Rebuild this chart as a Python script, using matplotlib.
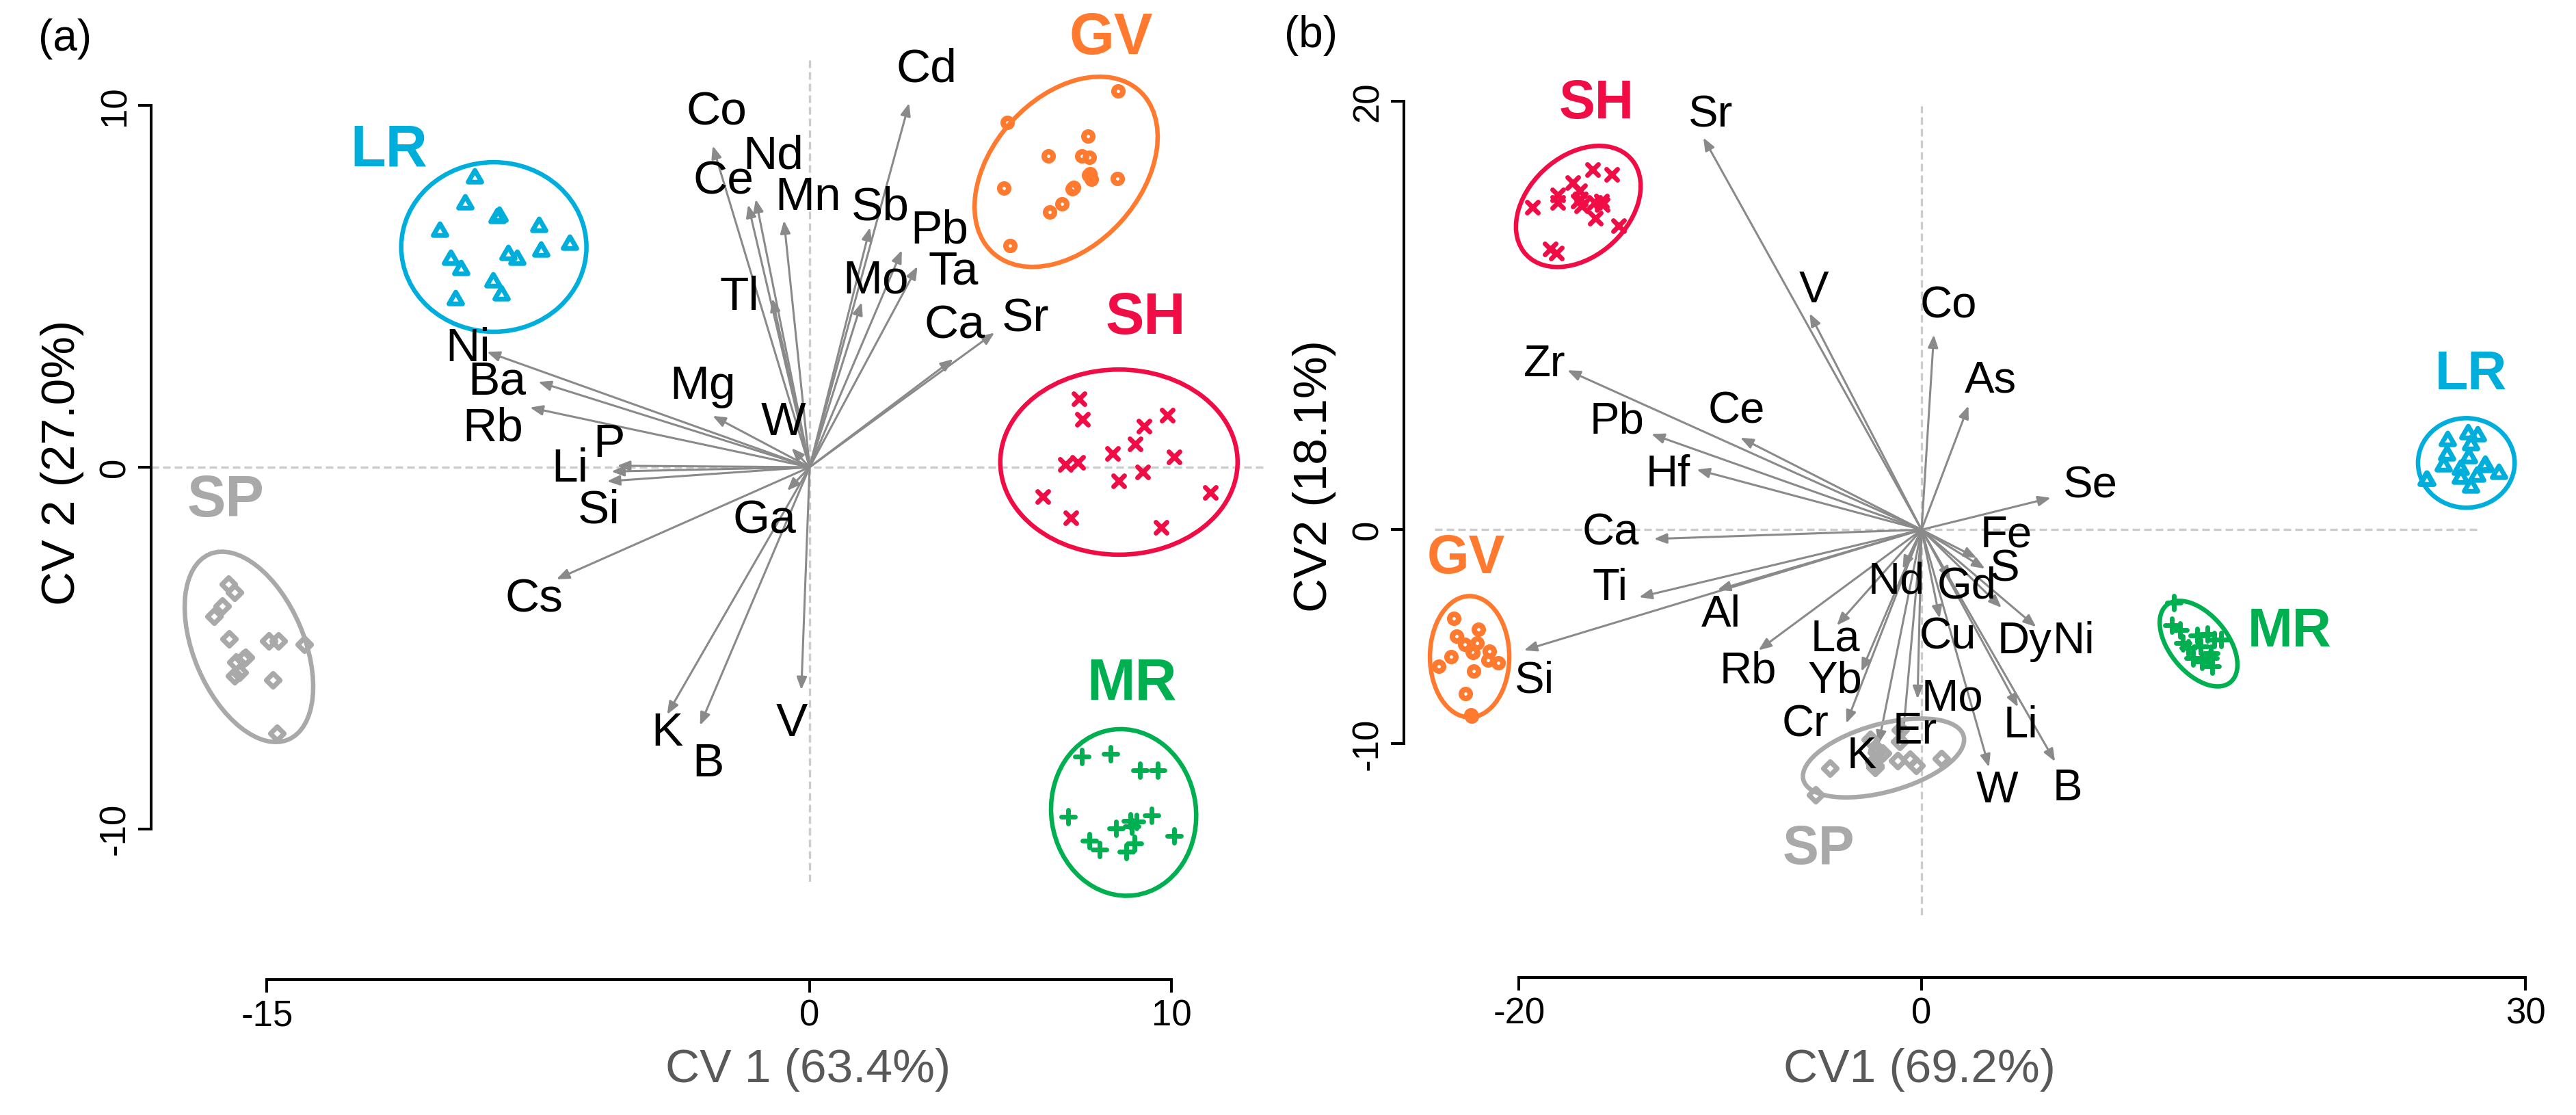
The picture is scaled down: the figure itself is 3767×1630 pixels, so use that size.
import matplotlib
matplotlib.use("Agg")
import matplotlib.pyplot as plt
from matplotlib.patches import Ellipse
from matplotlib.markers import MarkerStyle
from matplotlib.path import Path

plt.rcParams['font.family'] = ['Liberation Sans', 'DejaVu Sans']

# ---------------- DATA: panel (a) ----------------
a_LR_x = [-9.26, -9.53, -8.63, -8.58, -10.22, -7.49, -6.64, -7.42, -9.92, -8.34, -8.09, -9.64, -8.76, -8.52, -9.79]
a_LR_y = [8.00, 7.28, 6.90, 6.95, 6.53, 6.65, 6.17, 5.97, 5.75, 5.89, 5.75, 5.46, 5.13, 4.77, 4.64]
a_GV_x = [8.53, 5.47, 7.69, 6.60, 7.52, 7.73, 7.71, 7.76, 7.79, 8.51, 5.36, 7.26, 7.29, 6.97, 6.64, 5.54]
a_GV_y = [10.41, 9.54, 9.15, 8.60, 8.61, 8.57, 8.08, 8.12, 7.96, 7.99, 7.71, 7.70, 7.73, 7.29, 7.06, 6.12]
a_SH_x = [7.45, 7.54, 9.88, 9.25, 9.00, 8.37, 10.08, 7.08, 7.41, 9.20, 8.54, 6.45, 7.23, 9.72, 11.08]
a_SH_y = [1.89, 1.32, 1.43, 1.14, 0.64, 0.38, 0.28, 0.08, 0.13, -0.13, -0.37, -0.81, -1.41, -1.66, -0.70]
a_MR_x = [7.53, 8.32, 9.14, 9.63, 7.15, 9.45, 8.86, 9.03, 8.47, 8.90, 10.08, 7.74, 8.02, 8.98, 8.76]
a_MR_y = [-8.00, -7.92, -8.38, -8.38, -9.67, -9.64, -9.78, -9.80, -9.99, -9.94, -10.20, -10.33, -10.57, -10.41, -10.63]
a_SP_x = [-16.06, -15.89, -16.24, -16.46, -16.05, -14.96, -14.69, -13.96, -15.59, -15.86, -15.77, -15.89, -14.83, -14.73, -15.65]
a_SP_y = [-3.24, -3.46, -3.84, -4.12, -4.75, -4.80, -4.80, -4.91, -5.26, -5.40, -5.68, -5.78, -5.89, -7.37, -5.30]

# ellipses (a): center x, center y, width, height, angle
a_ell_LR = (-8.73, 6.09, 5.12, 4.69, 0)
a_ell_GV = (7.09, 8.17, 6.04, 4.10, 48)
a_ell_SH = (8.55, 0.14, 6.56, 5.12, 0)
a_ell_MR = (8.68, -9.55, 4.00, 4.62, 8)
a_ell_SP = (-15.50, -4.97, 5.57, 3.05, -67)

# group labels (a)
a_grp_names = ['LR', 'GV', 'SH', 'SP', 'MR']
a_grp_x = [-11.63, 8.33, 9.29, -16.15, 8.90]
a_grp_y = [8.75, 11.84, 4.11, -0.94, -6.00]

# loadings (a)
a_var = ['Cd', 'Co', 'Nd', 'Ce', 'Mn', 'Tl', 'Sb', 'Pb', 'Mo', 'Ta', 'Ca', 'Sr', 'Ni', 'Ba', 'Rb',
         'Mg', 'W', 'P', 'Li', 'Si', 'Cs', 'Ga', 'K', 'B', 'V']
a_tip_x = [2.75, -2.68, -1.49, -1.70, -0.71, -1.03, 1.67, 2.55, 1.44, 2.98, 3.97, 5.11, -8.92, -7.50, -7.73,
           -2.68, -0.50, -5.32, -5.48, -5.60, -7.00, -0.62, -3.94, -3.03, -0.23]
a_tip_y = [10.07, 8.89, 7.41, 7.26, 6.82, 4.66, 6.63, 6.00, 4.56, 5.55, 2.99, 3.72, 3.19, 2.36, 1.65,
           1.42, 0.53, 0.04, -0.12, -0.39, -3.10, -0.65, -6.84, -7.14, -6.16]
a_lab_x = [3.23, -2.57, -1.00, -2.39, -0.05, -1.93, 1.95, 3.58, 1.83, 3.97, 4.00, 5.96, -9.45, -8.65, -8.76,
           -2.96, -0.73, -5.55, -6.63, -5.83, -7.61, -1.24, -3.94, -2.80, -0.50]
a_lab_y = [11.00, 9.81, 8.60, 7.90, 7.45, 4.70, 7.18, 6.53, 5.15, 5.41, 3.90, 4.10, 3.28, 2.36, 1.06,
           2.24, 1.22, 0.63, -0.06, -1.20, -3.66, -1.49, -7.37, -8.22, -7.10]

# ---------------- DATA: panel (b) ----------------
b_SH_x = [-16.34, -15.38, -17.34, -16.98, -18.08, -18.06, -17.04, -16.95, -16.87, -16.25, -15.91, -15.87, -19.34, -16.19, -15.06, -18.45, -18.14]
b_SH_y = [16.83, 16.58, 16.21, 15.84, 15.64, 15.27, 15.36, 15.45, 15.14, 15.30, 15.34, 15.18, 15.06, 14.54, 14.19, 13.12, 12.91]
b_GV_x = [-23.23, -22.02, -23.10, -22.70, -22.08, -22.31, -22.28, -21.48, -23.38, -21.54, -21.03, -23.98, -22.25, -22.65, -22.38, -22.36]
b_GV_y = [-4.13, -4.65, -4.98, -5.36, -5.30, -5.71, -5.75, -5.68, -5.92, -6.10, -6.21, -6.39, -6.61, -7.65, -8.66, -8.70]
b_LR_x = [27.15, 27.63, 26.12, 27.29, 26.10, 27.17, 26.78, 25.93, 27.97, 28.00, 28.68, 27.57, 26.78, 25.08, 25.10, 27.27]
b_LR_y = [4.50, 4.39, 4.17, 3.96, 3.48, 3.37, 2.84, 2.98, 2.95, 3.00, 2.63, 2.52, 2.42, 2.31, 2.30, 1.99]
b_MR_x = [12.53, 12.43, 12.85, 13.70, 14.21, 14.55, 12.97, 13.25, 13.87, 13.47, 14.32, 13.93, 14.44, 14.38, 14.89]
b_MR_y = [-3.41, -4.45, -4.69, -4.93, -4.88, -5.14, -5.30, -5.52, -5.46, -6.00, -6.00, -6.16, -6.37, -5.78, -5.14]
b_SP_x = [-1.04, -2.55, -1.08, -2.21, -2.25, -1.93, -1.19, -0.59, -0.28, 1.00, -4.55, -2.32, -2.30, -5.26, -2.38]
b_SP_y = [-9.35, -9.81, -9.88, -10.26, -10.40, -10.42, -10.79, -10.73, -11.00, -10.68, -11.14, -11.10, -11.00, -12.39, -10.84]

b_ell_SH = (-17.05, 15.10, 6.88, 4.80, 37.4)
b_ell_GV = (-22.45, -5.93, 3.94, 5.66, 0)
b_ell_LR = (27.06, 3.12, 4.80, 4.18, 0)
b_ell_MR = (13.76, -5.32, 4.80, 2.80, -47)
b_ell_SP = (-1.89, -10.66, 8.22, 3.18, 14.2)

b_grp_names = ['SH', 'LR', 'GV', 'MR', 'SP']
b_grp_x = [-16.16, 27.28, -22.62, 18.28, -5.11]
b_grp_y = [19.87, 7.22, -1.39, -4.80, -14.97]

b_var = ['Sr', 'V', 'Co', 'As', 'Zr', 'Pb', 'Ce', 'Hf', 'Se', 'Ca', 'Fe', 'S', 'Gd', 'Nd', 'Ti',
         'Al', 'Si', 'La', 'Rb', 'Yb', 'Cr', 'Cu', 'Mo', 'Dy', 'Ni', 'Li', 'B', 'W', 'K', 'Er']
b_tip_x = [-10.84, -5.56, 0.61, 2.33, -17.59, -13.42, -9.00, -11.17, 6.42, -13.29, 2.74, 3.15, 1.43, -0.94, -14.03,
           -10.14, -19.75, -4.21, -8.10, -2.99, -3.74, 0.90, -0.20, 3.97, 5.69, 4.79, 6.63, 3.35, -2.14, -0.95]
b_tip_y = [18.31, 10.10, 9.11, 5.79, 7.45, 4.47, 4.30, 2.81, 1.49, -0.43, -1.32, -1.82, -2.32, -1.82, -3.15,
           -2.81, -5.63, -4.47, -5.63, -6.62, -9.04, -4.14, -7.90, -3.64, -4.54, -8.28, -10.83, -11.09, -10.00, -9.90]
b_lab_x = [-10.47, -5.36, 1.35, 3.44, -18.73, -15.13, -9.20, -12.60, 8.38, -15.46, 4.21, 4.13, 2.25, -1.23, -15.46,
           -9.94, -19.22, -4.29, -8.63, -4.29, -5.77, 1.31, 1.51, 5.11, 7.57, 4.91, 7.24, 3.76, -2.99, -0.33]
b_lab_y = [19.37, 11.16, 10.43, 6.95, 7.72, 5.03, 5.53, 2.58, 2.05, -0.17, -0.26, -1.85, -2.65, -2.42, -2.75,
           -3.97, -7.05, -5.13, -6.62, -7.05, -9.11, -5.03, -7.88, -5.23, -5.23, -9.17, -12.09, -12.19, -10.60, -9.44]

# axis ticks / labels
a_xticks = [-15, 0, 10]
a_yticks = [-10, 0, 10]
b_xticks = [-20, 0, 30]
b_yticks = [-10, 0, 20]
a_xlabel = 'CV 1 (63.4%)'
a_ylabel = 'CV 2 (27.0%)'
b_xlabel = 'CV1 (69.2%)'
b_ylabel = 'CV2 (18.1%)'

# ---------------- STYLE ----------------
COL = {'LR': '#00AEDB', 'GV': '#FF7A2F', 'SH': '#F00C45', 'MR': '#00B050', 'SP': '#A9A9A9'}
ARROW_COL = '#8A8A8A'
DASH_COL = '#CCCCCC'

tri = Path([(0, 1), (-0.866, -0.5), (0.866, -0.5), (0, 1)], closed=True)
MARK = {
    'LR': (MarkerStyle(tri, joinstyle='round'), 16.5, 5.0),
    'GV': (MarkerStyle('o'), 9.4, 5.8),
    'SH': (MarkerStyle('x', capstyle='round'), 11.5, 5.0),
    'MR': (MarkerStyle('+', capstyle='round'), 14.0, 5.0),
    'SP': (MarkerStyle('D', joinstyle='round'), 9.7, 5.2),
}

W, H = 3767, 1630
fig = plt.figure(figsize=(W / 100, H / 100), dpi=100)


def fx(px):
    return px / W


def fy(py):
    return 1 - py / H


axA = fig.add_axes([fx(221.2), fy(1289.2), (1850.5 - 221.2) / W, (1289.2 - 82) / H])
axB = fig.add_axes([fx(2053.4), fy(1337.8), (3707.9 - 2053.4) / W, (1337.8 - 139) / H])

A_XLIM = (-18.2, 12.6)
A_YLIM = (-11.47, 11.37)
B_XLIM = (-25.7, 30.5)
B_YLIM = (-18.0, 20.3)
B_HLINE = (-24.2, 27.75)
B_VLINE = (-18.0, 19.8)


def style_axes(ax, xlim, ylim, xt, yt, xout):
    ax.set_xlim(xlim)
    ax.set_ylim(ylim)
    ax.patch.set_visible(False)
    for s in ['top', 'right']:
        ax.spines[s].set_visible(False)
    for s in ['left', 'bottom']:
        ax.spines[s].set_linewidth(2.9)
    ax.spines['left'].set_bounds(yt[0], yt[-1])
    ax.spines['bottom'].set_bounds(xt[0], xt[-1])
    ax.spines['bottom'].set_position(('outward', xout))
    ax.set_xticks(xt)
    ax.set_xticklabels([str(v) for v in xt])
    ax.set_yticks(yt)
    ax.set_yticklabels([str(v) for v in yt], rotation=90, va='center')
    ax.tick_params(length=14, width=2.9, labelsize=38, pad=6, direction='out')


def draw_panel(ax, groups, ells, grp_names, grp_x, grp_y, gsize,
               var, tx, ty, lx, ly, vsize, hline, vline):
    ax.hlines(0, hline[0], hline[1], colors=DASH_COL, lw=2.4,
              linestyles=(0, (3.3, 1.8)), zorder=1)
    ax.vlines(0, vline[0], vline[1], colors=DASH_COL, lw=2.4,
              linestyles=(0, (3.3, 1.8)), zorder=1)
    for i in range(len(var)):
        ax.annotate('', xy=(tx[i], ty[i]), xytext=(0, 0),
                    arrowprops=dict(arrowstyle='-|>,head_length=0.55,head_width=0.22',
                                    color=ARROW_COL, lw=2.2, shrinkA=0, shrinkB=0,
                                    mutation_scale=20), zorder=2)
        ax.text(lx[i], ly[i], var[i], fontsize=vsize, ha='center', va='center',
                color='black', zorder=5)
    for g, (xs, ys) in groups.items():
        m, ms, mew = MARK[g]
        ax.plot(xs, ys, linestyle='none', marker=m, ms=ms, mew=mew, mfc='none',
                mec=COL[g], zorder=4, clip_on=False)
        cx, cy, w, h, ang = ells[g]
        ax.add_patch(Ellipse((cx, cy), w, h, angle=ang, fill=False,
                             edgecolor=COL[g], lw=4.7, zorder=3, clip_on=False))
    for n, x, y in zip(grp_names, grp_x, grp_y):
        ax.text(x, y, n, fontsize=gsize, fontweight='bold', color=COL[n],
                ha='center', va='center', zorder=6)


style_axes(axA, A_XLIM, A_YLIM, a_xticks, a_yticks, 103)
style_axes(axB, B_XLIM, B_YLIM, b_xticks, b_yticks, 66)

draw_panel(axA,
           {'LR': (a_LR_x, a_LR_y), 'GV': (a_GV_x, a_GV_y), 'SH': (a_SH_x, a_SH_y),
            'MR': (a_MR_x, a_MR_y), 'SP': (a_SP_x, a_SP_y)},
           {'LR': a_ell_LR, 'GV': a_ell_GV, 'SH': a_ell_SH, 'MR': a_ell_MR, 'SP': a_ell_SP},
           a_grp_names, a_grp_x, a_grp_y, 61,
           a_var, a_tip_x, a_tip_y, a_lab_x, a_lab_y, 50, A_XLIM, A_YLIM)

draw_panel(axB,
           {'LR': (b_LR_x, b_LR_y), 'GV': (b_GV_x, b_GV_y), 'SH': (b_SH_x, b_SH_y),
            'MR': (b_MR_x, b_MR_y), 'SP': (b_SP_x, b_SP_y)},
           {'LR': b_ell_LR, 'GV': b_ell_GV, 'SH': b_ell_SH, 'MR': b_ell_MR, 'SP': b_ell_SP},
           b_grp_names, b_grp_x, b_grp_y, 57,
           b_var, b_tip_x, b_tip_y, b_lab_x, b_lab_y, 47, B_HLINE, B_VLINE)

# axis titles and panel tags
fig.text(fx(1182), fy(1564), a_xlabel, fontsize=50, color='#595959', ha='center', va='center')
fig.text(fx(91), fy(676), a_ylabel, fontsize=50, color='black', ha='center', va='center', rotation=90)
fig.text(fx(2807), fy(1564), b_xlabel, fontsize=50, color='#595959', ha='center', va='center')
fig.text(fx(1922), fy(696), b_ylabel, fontsize=50, color='black', ha='center', va='center', rotation=90)
fig.text(fx(95), fy(57), '(a)', fontsize=46, ha='center', va='center')
fig.text(fx(1917), fy(52), '(b)', fontsize=46, ha='center', va='center')

fig.savefig('out.png', dpi=100, facecolor='white')
